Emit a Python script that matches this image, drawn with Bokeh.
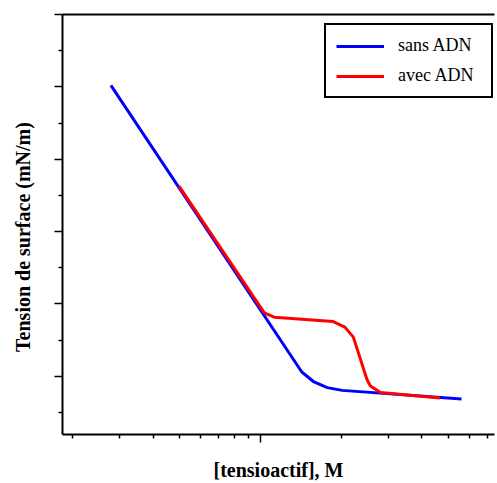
from bokeh.plotting import figure
from bokeh.models import Range1d, FixedTicker, LinearAxis, Legend, LegendItem
from bokeh.embed import file_html
from bokeh.resources import INLINE

# Data (concentration in M, surface tension in mN/m)
sans_x = [2.776e-4, 1.427e-3, 1.585e-3, 1.775e-3, 2.018e-3, 5.615e-3]
sans_y = [60.2, 20.58, 19.20, 18.42, 18.04, 16.86]

avec_x = [4.98e-4, 1.035e-3, 1.127e-3, 1.868e-3, 2.065e-3, 2.22e-3, 2.497e-3, 2.570e-3, 2.799e-3, 4.67e-3]
avec_y = [46.28, 28.75, 28.15, 27.55, 26.78, 25.40, 19.52, 18.65, 17.73, 17.0]

x_major = [1e-3]
x_minor = [2e-4, 3e-4, 4e-4, 5e-4, 6e-4, 7e-4, 8e-4, 9e-4,
           2e-3, 3e-3, 4e-3, 5e-3, 6e-3, 7e-3]
y_major = [20, 30, 40, 50, 60, 70]
y_minor = [15, 25, 35, 45, 55, 65]

FONT = "Liberation Serif"

p = figure(width=495, height=483, x_axis_type="log",
           x_range=Range1d(1.833e-4, 7.45e-3), y_range=Range1d(11.94, 70),
           output_backend="svg", toolbar_location=None,
           min_border_left=62, min_border_right=1, min_border_top=14, min_border_bottom=47)
p.outline_line_color = None
p.grid.visible = False
p.background_fill_color = "white"

l1 = p.line(sans_x, sans_y, line_color="#0000ff", line_width=3)
l2 = p.line(avec_x, avec_y, line_color="#ff0000", line_width=3)

for ax in (p.xaxis[0], p.yaxis[0]):
    ax.axis_line_width = 2
    ax.axis_line_color = "black"
    ax.major_tick_line_width = 1.5
    ax.minor_tick_line_width = 1.5
    ax.major_tick_out = 8
    ax.major_tick_in = 0
    ax.minor_tick_out = 4
    ax.minor_tick_in = 0
    ax.major_label_text_font_size = "1px"
    ax.major_label_text_color = None
    ax.major_label_standoff = 0
    ax.axis_label_text_font = FONT
    ax.axis_label_text_font_style = "bold"
    ax.axis_label_text_font_size = "20px"
    ax.axis_label_text_color = "black"

p.xaxis[0].ticker = FixedTicker(ticks=x_major, minor_ticks=x_minor)
p.yaxis[0].ticker = FixedTicker(ticks=y_major, minor_ticks=y_minor)
p.xaxis[0].axis_label = "[tensioactif], M"
p.yaxis[0].axis_label = "Tension de surface (mN/m)" + "\u00a0" * 5
p.xaxis[0].axis_label_standoff = 16
p.yaxis[0].axis_label_standoff = 21

top = LinearAxis(major_tick_line_color=None, minor_tick_line_color=None,
                 major_label_text_font_size="1px", major_label_text_color=None,
                 axis_line_width=2, axis_line_color="black", major_label_standoff=0,
                 major_tick_out=0, minor_tick_out=0)
top.ticker = FixedTicker(ticks=[50])
p.add_layout(top, "above")

legend = Legend(items=[LegendItem(label="sans ADN", renderers=[l1]),
                       LegendItem(label="avec ADN", renderers=[l2])],
                location=(262, 336))
legend.label_text_font = FONT
legend.label_text_font_size = "18px"
legend.label_text_color = "black"
legend.glyph_width = 48
legend.glyph_height = 20
legend.label_height = 20
legend.label_width = 83
legend.label_standoff = 14
legend.spacing = 9
legend.padding = 10
legend.margin = 0
legend.border_line_color = "black"
legend.border_line_alpha = 1
legend.border_line_width = 2
legend.background_fill_alpha = 1
p.add_layout(legend, "center")

open("out.html", "w").write(file_html(p, INLINE))
